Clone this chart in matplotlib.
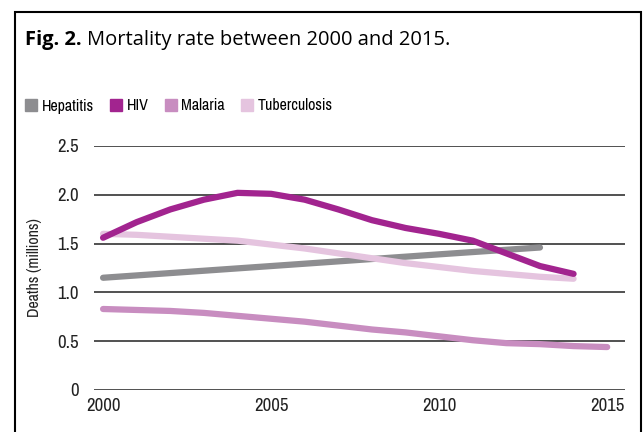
import matplotlib.pyplot as plt
from matplotlib.patches import Rectangle
from matplotlib.lines import Line2D
import numpy as np

narrow = ['Archivo Narrow', 'Roboto Condensed', 'PT Sans Narrow', 'Liberation Sans Narrow', 'DejaVu Sans']
title_font = ['Open Sans', 'DejaVu Sans']
plt.rcParams['font.family'] = narrow

# --- data (millions of deaths) ---
years_hep = [2000, 2005, 2010, 2013]
hepatitis = [1.15, 1.27, 1.39, 1.46]

years_hiv = list(range(2000, 2015))
hiv = [1.56, 1.72, 1.85, 1.95, 2.02, 2.01, 1.95, 1.85, 1.74, 1.66, 1.60, 1.53, 1.40, 1.27, 1.19]

years_mal = list(range(2000, 2016))
malaria = [0.83, 0.82, 0.81, 0.79, 0.76, 0.73, 0.70, 0.66, 0.62, 0.59, 0.55, 0.51, 0.48, 0.47, 0.45, 0.44]

years_tb = list(range(2000, 2015))
tuberculosis = [1.60, 1.59, 1.57, 1.55, 1.53, 1.49, 1.45, 1.40, 1.35, 1.30, 1.26, 1.22, 1.19, 1.16, 1.14]

series_names = ['Hepatitis', 'HIV', 'Malaria', 'Tuberculosis']
colors = ['#8d8d90', '#a2248f', '#c88dc0', '#e5c4df']

fig = plt.figure(figsize=(6.43, 4.32), dpi=100)

# outer frame (bottom edge runs off the picture)
fig.patches.append(Rectangle((15 / 643, -0.1), 626 / 643, 1.072, transform=fig.transFigure,
                             fill=False, edgecolor='black', linewidth=1.5))

# title: bold "Fig. 2." followed by regular text
t1 = fig.text(25 / 643, 1 - 45 / 432, 'Fig. 2.', fontsize=14.5, fontweight='bold',
              family=title_font, va='baseline')
fig.canvas.draw()
bb = t1.get_window_extent()
fig.text(bb.x1 / 643 + 5 / 643, 1 - 45 / 432, 'Mortality rate between 2000 and 2015.',
         fontsize=14.5, family=title_font, va='baseline')

ax = fig.add_axes([94 / 643, 42 / 432, 531 / 643, 244 / 432])
for s in ax.spines.values():
    s.set_visible(False)

lw = 4.5
ax.plot(years_hep, hepatitis, color=colors[0], lw=lw, solid_capstyle='round', zorder=3)
ax.plot(years_hiv, hiv, color=colors[1], lw=lw, solid_capstyle='round', zorder=4)
ax.plot(years_mal, malaria, color=colors[2], lw=lw, solid_capstyle='round', zorder=3)
ax.plot(years_tb, tuberculosis, color=colors[3], lw=lw, solid_capstyle='round', zorder=3)

ax.set_ylim(0, 2.5)
ax.set_xlim(1999.73, 2015.53)
ax.set_yticks([0, 0.5, 1.0, 1.5, 2.0, 2.5])
ax.set_yticklabels(['0', '0.5', '1.0', '1.5', '2.0', '2.5'])
ax.set_xticks([2000, 2005, 2010, 2015])
ax.tick_params(length=0, labelsize=13.5, colors='#222222')
ax.tick_params(axis='y', pad=11)
ax.tick_params(axis='x', pad=6)
ax.yaxis.grid(True, color='#333333', linewidth=1.2, zorder=1)
ax.set_axisbelow(True)
ax.set_ylabel('Deaths (millions)', fontsize=11.5, color='#222222', labelpad=11)

handles = [Line2D([], [], marker='s', linestyle='none', markersize=8, color=c) for c in colors]
fig.legend(handles, series_names, loc='center left', bbox_to_anchor=(25 / 643, 1 - 106 / 432),
           ncol=4, frameon=False, handlelength=0.8, handletextpad=0.25,
           columnspacing=1.0, borderpad=0, borderaxespad=0,
           prop={'family': narrow, 'size': 11.5, 'weight': 'medium'})

fig.savefig('out.png', dpi=100)
